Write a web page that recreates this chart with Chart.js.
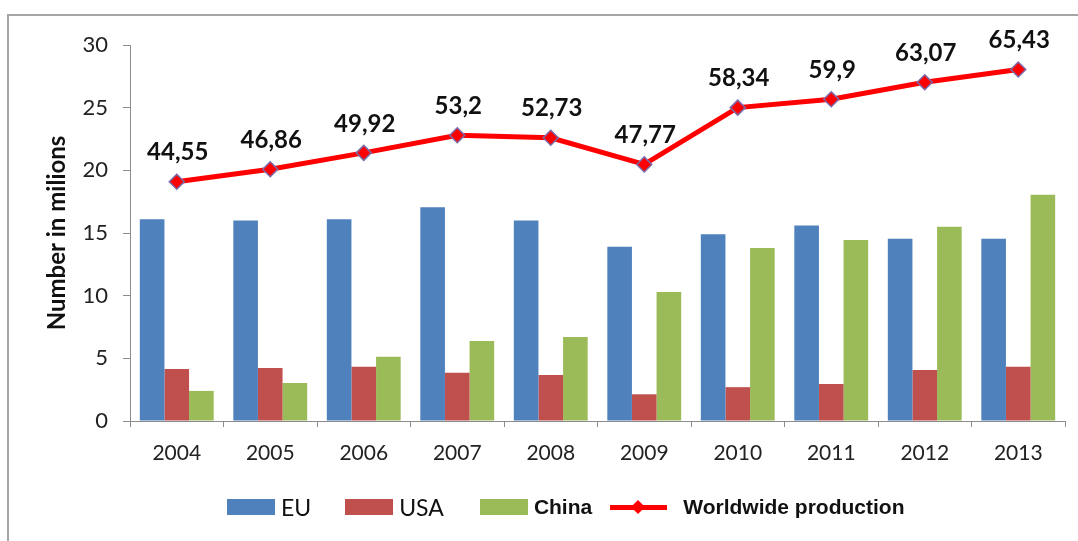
<!DOCTYPE html>
<html>
<head>
<meta charset="utf-8">
<script src="https://cdn.jsdelivr.net/npm/chart.js@4"></script>
<style>
  html, body { margin: 0; padding: 0; background: #fff; }
  body { width: 1078px; height: 541px; position: relative; overflow: hidden; }
  .frame {
    position: absolute; left: 7px; top: 14px; width: 1100px; height: 560px;
    border-top: 2px solid #a6a6a6; border-left: 2px solid #a6a6a6;
  }
  #wrap { position: absolute; left: 0; top: 0; width: 1078px; height: 541px; }
  .legend {
    position: absolute; left: 227px; top: 498px; height: 18px;
    display: flex; align-items: center; color: #111;
  }
  .legend .item { display: flex; align-items: center; margin-right: 34px; }
  .legend .box { width: 48px; height: 16px; margin-right: 6px; }
  .legend .txt { font-family: Lato, sans-serif; font-size: 23px; }
  .legend .txt.bold { font-family: "Liberation Sans", Arial, sans-serif; font-weight: bold; font-size: 21px; }
  .legend .sym { position: relative; width: 57px; height: 18px; margin: 0 16px 0 18px; }
  .legend .sym .ln { position: absolute; left: 0; right: 0; top: 7px; height: 5px; background: #ff0000; }
  .legend .sym .dm {
    position: absolute; left: 23px; top: 4px; width: 10px; height: 10px;
    background: #ff0000; transform: rotate(45deg);
  }
</style>
</head>
<body>
<div class="frame"></div>
<div id="wrap"><canvas id="chart" width="1078" height="541"></canvas></div>
<div class="legend" id="legend"></div>
<script>
document.addEventListener('DOMContentLoaded', function () {
    const years = ['2004', '2005', '2006', '2007', '2008', '2009', '2010', '2011', '2012', '2013'];
    const euValues = [16.1, 16.0, 16.1, 17.05, 16.0, 13.9, 14.9, 15.6, 14.55, 14.55];
    const usaValues = [4.15, 4.23, 4.33, 3.85, 3.67, 2.13, 2.7, 2.95, 4.07, 4.33];
    const chinaValues = [2.4, 3.03, 5.13, 6.38, 6.7, 10.3, 13.8, 14.45, 15.5, 18.05];
    const worldValues = [44.55, 46.86, 49.92, 53.2, 52.73, 47.77, 58.34, 59.9, 63.07, 65.43];

    const colors = {
        eu: '#4f81bd',
        usa: '#c0504d',
        china: '#9bbb59',
        world: '#ff0000'
    };

    // value labels above the worldwide line, comma decimals like the original
    const lineLabels = {
        id: 'lineLabels',
        afterDatasetsDraw(chart) {
            const meta = chart.getDatasetMeta(3);
            const ctx = chart.ctx;
            ctx.save();
            ctx.font = 'bold 24px Lato, sans-serif';
            ctx.fillStyle = '#111';
            ctx.textAlign = 'center';
            ctx.textBaseline = 'middle';
            meta.data.forEach(function (pt, i) {
                const txt = String(worldValues[i]).replace('.', ',');
                ctx.fillText(txt, pt.x + 1, pt.y - 29);
            });
            ctx.restore();
        }
    };

    const ctx = document.getElementById('chart').getContext('2d');
    new Chart(ctx, {
        type: 'bar',
        data: {
            labels: years,
            datasets: [
                { label: 'EU', data: euValues, backgroundColor: colors.eu, order: 1 },
                { label: 'USA', data: usaValues, backgroundColor: colors.usa, order: 1 },
                { label: 'China', data: chinaValues, backgroundColor: colors.china, order: 1 },
                {
                    type: 'line',
                    label: 'Worldwide production',
                    data: worldValues,
                    yAxisID: 'y1',
                    borderColor: colors.world,
                    borderWidth: 5,
                    pointStyle: 'rectRot',
                    pointRadius: 7.5,
                    pointBackgroundColor: colors.world,
                    pointBorderColor: '#7b6aa8',
                    pointBorderWidth: 1.5,
                    tension: 0,
                    order: 0
                }
            ]
        },
        options: {
            responsive: false,
            animation: false,
            layout: { padding: { left: 0, right: 13, top: 45, bottom: 70 } },
            datasets: {
                bar: { categoryPercentage: 0.79, barPercentage: 1 }
            },
            scales: {
                x: {
                    grid: { drawOnChartArea: false, tickLength: 6, color: '#8c8c8c', offset: true },
                    border: { color: '#8c8c8c', width: 1 },
                    ticks: {
                        color: '#222',
                        padding: 14,
                        font: { family: 'Lato, sans-serif', size: 21 }
                    },
                    afterFit: function (scale) { scale.height = 50; }
                },
                y: {
                    min: 0,
                    max: 30,
                    grid: { drawOnChartArea: false, tickLength: 7, color: '#8c8c8c' },
                    border: { color: '#8c8c8c', width: 1 },
                    ticks: {
                        stepSize: 5,
                        color: '#222',
                        padding: 15,
                        font: { family: 'Lato, sans-serif', size: 22 }
                    },
                    title: {
                        display: true,
                        text: 'Number in milions',
                        color: '#111',
                        padding: { top: 43, bottom: 0 },
                        font: { family: 'Lato, sans-serif', size: 24, weight: 'bold' }
                    },
                    afterFit: function (scale) { scale.width = 130; }
                },
                y1: {
                    display: false,
                    min: 0,
                    max: 70
                }
            },
            plugins: {
                legend: { display: false },
                tooltip: { enabled: false }
            }
        },
        plugins: [lineLabels]
    });

    // legend built as html so the bold items can differ from the plain ones
    const legendItems = [
        { name: 'EU', color: colors.eu, bold: false },
        { name: 'USA', color: colors.usa, bold: false },
        { name: 'China', color: colors.china, bold: true },
        { name: 'Worldwide production', color: colors.world, bold: true, line: true }
    ];
    const legend = document.getElementById('legend');
    legendItems.forEach(function (it, i) {
        if (it.line) {
            const sym = document.createElement('span');
            sym.className = 'sym';
            sym.innerHTML = '<span class="ln"></span><span class="dm"></span>';
            legend.appendChild(sym);
            const t = document.createElement('span');
            t.className = 'txt bold';
            t.textContent = it.name;
            legend.appendChild(t);
            return;
        }
        const item = document.createElement('span');
        item.className = 'item';
        if (i === 1) item.style.marginRight = '36px';
        if (i === 2) item.style.marginRight = '0';
        const box = document.createElement('span');
        box.className = 'box';
        box.style.background = it.color;
        const t = document.createElement('span');
        t.className = it.bold ? 'txt bold' : 'txt';
        t.textContent = it.name;
        item.appendChild(box);
        item.appendChild(t);
        legend.appendChild(item);
    });
});
</script>
</body>
</html>
